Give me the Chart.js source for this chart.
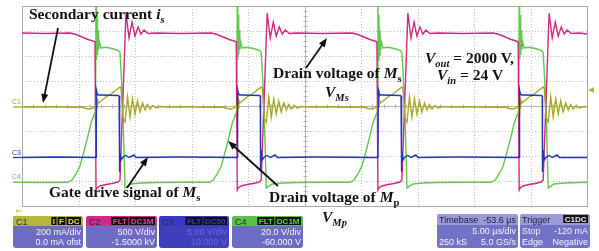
<!DOCTYPE html>
<html>
<head>
<meta charset="utf-8">
<script src="https://cdn.jsdelivr.net/npm/chart.js@4.4.1/dist/chart.umd.min.js"></script>
<style>
  html, body { margin: 0; padding: 0; background: #fff; }
  #wrap { position: relative; width: 599px; height: 251px; }
</style>
</head>
<body>
<div id="wrap"><canvas id="scope"></canvas></div>
<script>
/** Screen: 10 x 5 us, time in us */
var timeTicks = [0, 5, 10, 15, 20, 25, 30, 35, 40, 45, 50];
/** 8 vertical divisions, read on the C1 scale (200 mA/div) */
var divTicksC1 = [-800, -600, -400, -200, 0, 200, 400, 600, 800];

/** C1: secondary current i_s [mA] */
var currentC1 = [
  [0,-8],[2.5,-6],[4.5,-10],
  [5.31,-8],[5.67,-20],[6.02,-24],[6.28,-16],[6.46,0],[6.55,-72],[6.59,80],[6.64,-16],[6.68,48],[6.77,24],[6.99,40],[7.43,72],[7.88,96],[8.32,128],[8.67,152],[8.76,144],[8.94,-96],[9.12,-128],[9.34,72],[9.56,-88],[9.78,56],[10.00,-64],[10.22,40],[10.44,-48],[10.67,24],[10.89,-32],[11.11,12],[11.33,-24],[11.59,4],[11.86,-16],[12.21,-4],[12.74,-8],
  [14.5,-6],[16.0,-10],
  [17.81,-8],[18.17,-20],[18.52,-24],[18.78,-16],[18.96,0],[19.05,-72],[19.09,80],[19.14,-16],[19.18,48],[19.27,24],[19.49,40],[19.93,72],[20.38,96],[20.82,128],[21.17,152],[21.26,144],[21.44,-96],[21.62,-128],[21.84,72],[22.06,-88],[22.28,56],[22.50,-64],[22.72,40],[22.94,-48],[23.17,24],[23.39,-32],[23.61,12],[23.83,-24],[24.09,4],[24.36,-16],[24.71,-4],[25.24,-8],
  [27.0,-6],[28.5,-10],
  [30.26,-8],[30.62,-20],[30.97,-24],[31.23,-16],[31.41,0],[31.50,-72],[31.54,80],[31.59,-16],[31.63,48],[31.72,24],[31.94,40],[32.38,72],[32.83,96],[33.27,128],[33.62,152],[33.71,144],[33.89,-96],[34.07,-128],[34.29,72],[34.51,-88],[34.73,56],[34.95,-64],[35.17,40],[35.39,-48],[35.62,24],[35.84,-32],[36.06,12],[36.28,-24],[36.54,4],[36.81,-16],[37.16,-4],[37.69,-8],
  [39.5,-6],[41.0,-10],
  [42.76,-8],[43.12,-20],[43.47,-24],[43.73,-16],[43.91,0],[44.00,-72],[44.04,80],[44.09,-16],[44.13,48],[44.22,24],[44.44,40],[44.88,72],[45.33,96],[45.77,128],[46.12,152],[46.21,144],[46.39,-96],[46.57,-128],[46.79,72],[47.01,-88],[47.23,56],[47.45,-64],[47.67,40],[47.89,-48],[48.12,24],[48.34,-32],[48.56,12],[48.78,-24],[49.04,4],[49.31,-16],[49.66,-4],[50,-6]
];

/** C2: drain voltage of Ms [V] */
var voltsC2 = [
  [0,2960],[2.0,2950],
  [4.25,2960],[4.78,2930],[5.31,2880],[5.84,2830],[6.28,2800],[6.46,2780],[6.55,-180],[6.64,-140],[6.90,-100],[7.43,-70],[7.97,-50],[8.50,-20],[8.67,20],[9.20,3360],[9.47,2860],[9.74,3180],[10.00,2900],[10.27,3080],[10.53,2940],[10.80,3020],[11.15,2950],[11.86,2960],
  [14.0,2950],
  [16.75,2960],[17.28,2930],[17.81,2880],[18.34,2830],[18.78,2800],[18.96,2780],[19.05,-180],[19.14,-140],[19.40,-100],[19.93,-70],[20.47,-50],[21.00,-20],[21.17,20],[21.70,3360],[21.97,2860],[22.24,3180],[22.50,2900],[22.77,3080],[23.03,2940],[23.30,3020],[23.65,2950],[24.36,2960],
  [26.5,2950],
  [29.20,2960],[29.73,2930],[30.26,2880],[30.79,2830],[31.23,2800],[31.41,2780],[31.50,-180],[31.59,-140],[31.85,-100],[32.38,-70],[32.92,-50],[33.45,-20],[33.62,20],[34.15,3360],[34.42,2860],[34.69,3180],[34.95,2900],[35.22,3080],[35.48,2940],[35.75,3020],[36.10,2950],[36.81,2960],
  [39.0,2950],
  [41.70,2960],[42.23,2930],[42.76,2880],[43.29,2830],[43.73,2800],[43.91,2780],[44.00,-180],[44.09,-140],[44.35,-100],[44.88,-70],[45.42,-50],[45.95,-20],[46.12,20],[46.65,3360],[46.92,2860],[47.19,3180],[47.45,2900],[47.72,3080],[47.98,2940],[48.25,3020],[48.60,2950],[49.31,2960],
  [50,2940]
];

/** C3: gate drive signal of Ms [V] */
var voltsC3 = [
  [0,-0.3],[3.0,-0.2],
  [6.46,-0.3],[6.55,-0.2],[6.58,13.2],[6.64,12.6],[6.73,12.2],[6.99,12.2],[8.50,12.1],[8.59,12.0],[8.61,-3.2],[8.67,1.2],[8.76,-0.8],[8.94,-0.2],[9.20,0.1],[9.47,-0.3],[9.91,0.2],[10.09,-0.3],
  [14.0,-0.2],
  [18.96,-0.3],[19.05,-0.2],[19.08,13.2],[19.14,12.6],[19.23,12.2],[19.49,12.2],[21.00,12.1],[21.09,12.0],[21.11,-3.2],[21.17,1.2],[21.26,-0.8],[21.44,-0.2],[21.70,0.1],[21.97,-0.3],[22.41,0.2],[22.59,-0.3],
  [26.0,-0.2],
  [31.41,-0.3],[31.50,-0.2],[31.53,13.2],[31.59,12.6],[31.68,12.2],[31.94,12.2],[33.45,12.1],[33.54,12.0],[33.56,-3.2],[33.62,1.2],[33.71,-0.8],[33.89,-0.2],[34.15,0.1],[34.42,-0.3],[34.86,0.2],[35.04,-0.3],
  [38.5,-0.2],
  [43.91,-0.3],[44.00,-0.2],[44.03,13.2],[44.09,12.6],[44.18,12.2],[44.44,12.2],[45.95,12.1],[46.04,12.0],[46.06,-3.2],[46.12,1.2],[46.21,-0.8],[46.39,-0.2],[46.65,0.1],[46.92,-0.3],[47.36,0.2],[47.54,-0.3],
  [50,-0.3]
];

/** C4: drain voltage of Mp [V] */
var voltsC4 = [
  [0,-1],[2.0,-1.2],
  [4.07,-1],[4.43,0.8],[4.78,5.6],[5.13,12],[5.40,20.8],[5.75,32.8],[6.11,46.4],[6.37,52.8],[6.51,55.2],[6.55,150],[6.59,96.8],[6.64,132.8],[6.68,100.8],[6.73,120.8],[6.77,104.8],[6.86,111.2],[6.99,106.4],[7.43,107],[7.97,106],[8.50,104.5],[8.67,103],[8.90,65],[9.12,-5.6],[9.29,-4.5],[9.65,-2.4],[10.53,-1.6],[11.86,-1.2],
  [14.0,-1],
  [16.57,-1],[16.93,0.8],[17.28,5.6],[17.63,12],[17.90,20.8],[18.25,32.8],[18.61,46.4],[18.87,52.8],[19.01,55.2],[19.05,150],[19.09,96.8],[19.14,132.8],[19.18,100.8],[19.23,120.8],[19.27,104.8],[19.36,111.2],[19.49,106.4],[19.93,107],[20.47,106],[21.00,104.5],[21.17,103],[21.40,65],[21.62,-5.6],[21.79,-4.5],[22.15,-2.4],[23.03,-1.6],[24.36,-1.2],
  [26.5,-1],
  [29.02,-1],[29.38,0.8],[29.73,5.6],[30.08,12],[30.35,20.8],[30.70,32.8],[31.06,46.4],[31.32,52.8],[31.46,55.2],[31.50,150],[31.54,96.8],[31.59,132.8],[31.63,100.8],[31.68,120.8],[31.72,104.8],[31.81,111.2],[31.94,106.4],[32.38,107],[32.92,106],[33.45,104.5],[33.62,103],[33.85,65],[34.07,-5.6],[34.24,-4.5],[34.60,-2.4],[35.48,-1.6],[36.81,-1.2],
  [39.0,-1],
  [41.52,-1],[41.88,0.8],[42.23,5.6],[42.58,12],[42.85,20.8],[43.20,32.8],[43.56,46.4],[43.82,52.8],[43.96,55.2],[44.00,150],[44.04,96.8],[44.09,132.8],[44.13,100.8],[44.18,120.8],[44.22,104.8],[44.31,111.2],[44.44,106.4],[44.88,107],[45.42,106],[45.95,104.5],[46.12,103],[46.35,65],[46.57,-5.6],[46.74,-4.5],[47.10,-2.4],[47.98,-1.6],[49.31,-1.2],
  [50,-1]
];

/** Scope readouts */
var channelBoxes = [
  {x: 13, w: 70, name: 'C1', head: '#b6b638', tags: ['I', 'F', 'DC'], tagText: '#dede5a', body: '#6c6cc4', text: '#f4f4ff', lines: ['200 mA/div', '0.0 mA ofst']},
  {x: 86, w: 71, name: 'C2', head: '#d4288a', tags: ['FLT', 'DC1M'], tagText: '#e2449e', body: '#6c6cc4', text: '#f4f4ff', lines: ['500 V/div', '-1.5000 kV']},
  {x: 159, w: 70, name: 'C3', head: '#3838c2', tags: ['FLT', 'DC50'], tagText: '#3a3ab0', body: '#3f3fbc', text: '#6a6ad8', lines: ['5.00 V/div', '10.000 V']},
  {x: 232, w: 71, name: 'C4', head: '#5ec24a', tags: ['FLT', 'DC1M'], tagText: '#66cc50', body: '#6c6cc4', text: '#f4f4ff', lines: ['20.0 V/div', '-60.000 V']}
];
var timebaseRows = [['Timebase', '-53.6 \u00b5s'], ['', '5.00 \u00b5s/div'], ['250 kS', '5.0 GS/s']];
var triggerRows = [['Trigger', ''], ['Stop', '-120 mA'], ['Edge', 'Negative']];

/** Annotations (left x, baseline y) */
var notes = [
  [29, 19, [['Secondary current ', 'b'], ['i', 'bi'], ['s', 'si']]],
  [273, 78, [['Drain voltage of ', 'b'], ['M', 'bi'], ['s', 'sb']]],
  [325, 97, [['V', 'bi'], ['Ms', 'si']]],
  [425, 63, [['V', 'bi'], ['out', 'si'], [' = 2000 V,', 'b']]],
  [437, 80, [['V', 'bi'], ['in', 'si'], [' = 24 V', 'b']]],
  [49, 197, [['Gate drive signal of ', 'b'], ['M', 'bi'], ['s', 'sb']]],
  [269, 202, [['Drain voltage of ', 'b'], ['M', 'bi'], ['p', 'sb']]],
  [322, 222, [['V', 'bi'], ['Mp', 'si']]]
];
var arrows = [[58, 28, 43, 103], [306, 68, 327, 38], [127, 188, 148, 157], [278, 186, 228, 141]];

var serif = '"Liberation Serif", "Times New Roman", serif';
var sans = '"Liberation Sans", Arial, sans-serif';

function noteFont(kind) {
  if (kind === 'bi') return 'italic bold 15.5px ' + serif;
  if (kind === 'si') return 'italic bold 10.5px ' + serif;
  if (kind === 'sb') return 'bold 10.5px ' + serif;
  return 'bold 15.5px ' + serif;
}

function drawRuns(ctx, x, y, parts) {
  parts.forEach(function (p) {
    ctx.font = noteFont(p[1]);
    var dy = (p[1] === 'si' || p[1] === 'sb') ? 4 : 0;
    ctx.fillText(p[0], x, y + dy);
    x += ctx.measureText(p[0]).width;
  });
}

function drawArrow(ctx, x1, y1, x2, y2) {
  var a = Math.atan2(y2 - y1, x2 - x1), len = 9, half = 3.5;
  var c = Math.cos(a), s = Math.sin(a);
  ctx.beginPath();
  ctx.moveTo(x1, y1);
  ctx.lineTo(x2 - len * 0.7 * c, y2 - len * 0.7 * s);
  ctx.stroke();
  ctx.beginPath();
  ctx.moveTo(x2, y2);
  ctx.lineTo(x2 - len * c + half * s, y2 - len * s - half * c);
  ctx.lineTo(x2 - len * c - half * s, y2 - len * s + half * c);
  ctx.closePath();
  ctx.fill();
}

function drawTags(ctx, right, top, tags, color) {
  ctx.font = 'bold 8px ' + sans;
  ctx.textAlign = 'left';
  for (var i = tags.length - 1; i >= 0; i--) {
    var w = ctx.measureText(tags[i]).width + 3;
    right -= w;
    ctx.fillStyle = '#111';
    ctx.fillRect(right, top, w, 8);
    ctx.fillStyle = color;
    ctx.fillText(tags[i], right + 1.5, top + 7);
    right -= 1;
  }
}

/** Grid, centre lines, frame */
var scopeGrid = {
  id: 'scopeGrid',
  beforeDatasetsDraw: function (chart) {
    var ctx = chart.ctx, a = chart.chartArea, x = chart.scales.x, y = chart.scales.yC1;
    ctx.save();
    ctx.lineWidth = 1;
    ctx.strokeStyle = '#bdbdbd';
    ctx.setLineDash([1, 2]);
    timeTicks.forEach(function (t) {
      var px = Math.round(x.getPixelForValue(t)) + 0.5;
      ctx.beginPath(); ctx.moveTo(px, a.top); ctx.lineTo(px, a.bottom); ctx.stroke();
    });
    divTicksC1.forEach(function (v) {
      var py = Math.round(y.getPixelForValue(v)) + 0.5;
      ctx.beginPath(); ctx.moveTo(a.left, py); ctx.lineTo(a.right, py); ctx.stroke();
    });
    ctx.setLineDash([]);
    ctx.strokeStyle = '#b4b4b4';
    var cx = Math.round(x.getPixelForValue(25)) + 0.5;
    var cy = Math.round(y.getPixelForValue(0)) + 0.5;
    ctx.beginPath(); ctx.moveTo(a.left, cy); ctx.lineTo(a.right, cy); ctx.stroke();
    ctx.beginPath(); ctx.moveTo(cx, a.top); ctx.lineTo(cx, a.bottom); ctx.stroke();
    for (var t = 0; t <= 50; t += 1) {
      var tx = Math.round(x.getPixelForValue(t)) + 0.5;
      ctx.beginPath(); ctx.moveTo(tx, cy - 2); ctx.lineTo(tx, cy + 2); ctx.stroke();
    }
    for (var v = -800; v <= 800; v += 40) {
      var ty = Math.round(y.getPixelForValue(v)) + 0.5;
      ctx.beginPath(); ctx.moveTo(cx - 2, ty); ctx.lineTo(cx + 2, ty); ctx.stroke();
    }
    ctx.strokeStyle = '#a8a8a8';
    ctx.strokeRect(Math.round(a.left) + 0.5, Math.round(a.top) + 0.5, Math.round(a.right - a.left), Math.round(a.bottom - a.top));
    ctx.restore();
  }
};

/** Channel markers, annotations, readout boxes */
var scopeLabels = {
  id: 'scopeLabels',
  afterDraw: function (chart) {
    var ctx = chart.ctx, a = chart.chartArea, s = chart.scales;
    ctx.save();

    // ground markers on the left
    var marks = [['C1', '#a9a92c', s.yC1.getPixelForValue(currentC1[0][1])],
                 ['C3', '#2a3ab4', s.yC3.getPixelForValue(voltsC3[0][1])],
                 ['C4', '#5cc448', s.yC4.getPixelForValue(voltsC4[0][1])]];
    marks.forEach(function (m) {
      ctx.strokeStyle = m[1]; ctx.lineWidth = 1.3;
      ctx.beginPath(); ctx.moveTo(13, m[2]); ctx.lineTo(a.left, m[2]); ctx.stroke();
      ctx.fillStyle = m[1]; ctx.font = '7px ' + sans;
      ctx.fillText(m[0], 12, m[2] - 3);
    });

    // trigger level marker
    ctx.fillStyle = '#b4b43a';
    ctx.beginPath(); ctx.moveTo(588, 90); ctx.lineTo(594, 87); ctx.lineTo(594, 93); ctx.closePath(); ctx.fill();
    ctx.strokeStyle = '#c8c850'; ctx.lineWidth = 1;
    ctx.beginPath(); ctx.moveTo(16, 211); ctx.lineTo(22, 211); ctx.moveTo(16, 211); ctx.lineTo(18, 209); ctx.moveTo(16, 211); ctx.lineTo(18, 213); ctx.stroke();

    // annotations
    ctx.fillStyle = '#111'; ctx.strokeStyle = '#111'; ctx.lineWidth = 1.8;
    ctx.textAlign = 'left';
    notes.forEach(function (n) { drawRuns(ctx, n[0], n[1], n[2]); });
    arrows.forEach(function (r) { drawArrow(ctx, r[0], r[1], r[2], r[3]); });

    // channel readouts
    var top = 216, h = 32;
    channelBoxes.forEach(function (b) {
      ctx.fillStyle = b.body;
      ctx.beginPath(); ctx.roundRect(b.x, top, b.w, h, 3); ctx.fill();
      ctx.fillStyle = b.head;
      ctx.beginPath(); ctx.roundRect(b.x, top, b.w, 10, [3, 3, 0, 0]); ctx.fill();
      ctx.fillStyle = '#2a2a3a'; ctx.font = '9px ' + sans; ctx.textAlign = 'left';
      ctx.fillText(b.name, b.x + 3, top + 8.5);
      drawTags(ctx, b.x + b.w - 2, top + 1, b.tags, b.tagText);
      ctx.fillStyle = b.text; ctx.font = '9px ' + sans; ctx.textAlign = 'right';
      ctx.fillText(b.lines[0], b.x + b.w - 2, top + 19);
      ctx.fillText(b.lines[1], b.x + b.w - 2, top + 29);
    });

    // timebase / trigger
    [[437, 81, timebaseRows], [520, 70, triggerRows]].forEach(function (box) {
      var bx = box[0], bw = box[1], rows = box[2];
      ctx.fillStyle = '#7272c6';
      ctx.beginPath(); ctx.roundRect(bx, 214, bw, 34, 3); ctx.fill();
      ctx.fillStyle = '#9a9ad8';
      ctx.beginPath(); ctx.roundRect(bx, 214, bw, 11, [3, 3, 0, 0]); ctx.fill();
      ctx.font = '9px ' + sans;
      rows.forEach(function (r, i) {
        var by = 223 + i * 11;
        ctx.fillStyle = i === 0 ? '#1c1c38' : '#f4f4ff';
        ctx.textAlign = 'left'; ctx.fillText(r[0], bx + 2, by);
        ctx.textAlign = 'right'; ctx.fillText(r[1], bx + bw - 2, by);
      });
    });
    drawTags(ctx, 588, 215, ['C1DC'], '#f0f0f0');

    ctx.restore();
  }
};

Chart.defaults.font.family = sans;
var myChart = new Chart(document.getElementById('scope'), {
  type: 'line',
  data: {
    datasets: [
      {label: 'C3', data: voltsC3, yAxisID: 'yC3', borderColor: '#2436b4'},
      {label: 'C1', data: currentC1, yAxisID: 'yC1', borderColor: '#a8a826'},
      {label: 'C2', data: voltsC2, yAxisID: 'yC2', borderColor: '#cf2a82'},
      {label: 'C4', data: voltsC4, yAxisID: 'yC4', borderColor: '#62c74a'}
    ]
  },
  options: {
    responsive: true,
    maintainAspectRatio: false,
    animation: false,
    layout: {padding: {left: 22, right: 12, top: 6, bottom: 45}},
    elements: {point: {radius: 0}, line: {borderWidth: 1.4, tension: 0}},
    plugins: {legend: {display: false}, tooltip: {enabled: false}},
    scales: {
      x: {type: 'linear', min: 0, max: 50, display: false},
      yC1: {min: -800, max: 800, display: false},
      yC2: {min: -500, max: 3500, display: false},
      yC3: {min: -10, max: 30, display: false},
      yC4: {min: -20, max: 140, display: false}
    }
  },
  plugins: [scopeGrid, scopeLabels]
});
</script>
</body>
</html>
